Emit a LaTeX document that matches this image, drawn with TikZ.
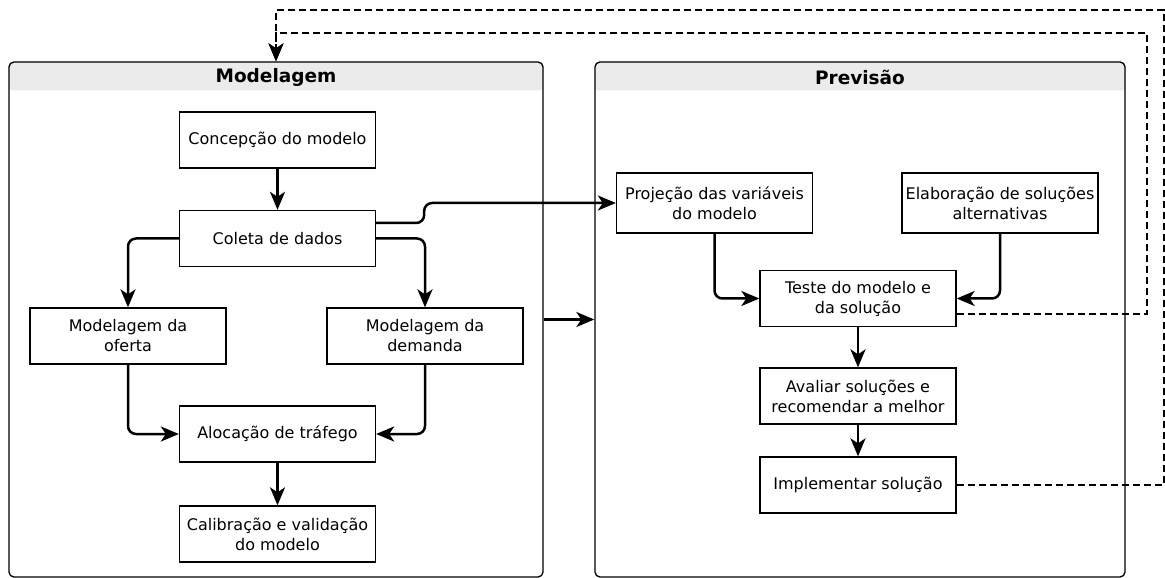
\documentclass[tikz,border=0pt]{standalone}
\usepackage{fontspec}
\setmainfont{DejaVu Sans}
\usetikzlibrary{arrows.meta,backgrounds}
\definecolor{hdrgray}{RGB}{235,235,235}
\begin{document}
\begin{tikzpicture}[x=1bp,y=-1bp,
  proc/.style={draw, line width=1.3bp, minimum width=196bp, minimum height=56bp,
    inner sep=0pt, align=center, fill=white,
    font=\fontsize{16bp}{20bp}\selectfont},
  lane/.style={draw, line width=1.3bp, rounded corners=5bp, inner sep=0pt,
    minimum height=515bp},
  lanetitle/.style={font=\bfseries\fontsize{18.5bp}{22bp}\selectfont},
  headtip/.style={-{Stealth[length=18bp,width=15bp,inset=5bp]}},
  flow/.style={headtip, line width=2.5bp, rounded corners=8bp},
  feedback/.style={headtip, line width=1.4bp, dash pattern=on 7bp off 4bp}
]
\useasboundingbox (0,0) rectangle (1165,578);

% swimlanes
\node[lane, minimum width=534bp] (modlane) at (276,319.5) {};
\node[lane, minimum width=530bp] (prevlane) at (860,319.5) {};
\begin{scope}[on background layer]
  \fill[hdrgray, rounded corners=5bp]
    ([yshift=-29bp]modlane.north west) -- (modlane.north west)
    -- (modlane.north east) -- ([yshift=-29bp]modlane.north east);
  \fill[hdrgray, rounded corners=5bp]
    ([yshift=-29bp]prevlane.north west) -- (prevlane.north west)
    -- (prevlane.north east) -- ([yshift=-29bp]prevlane.north east);
\end{scope}
\node[lanetitle] (modtitle) at (276,77) {Modelagem};
\node[lanetitle] (prevtitle) at (860,77) {Previsão};

% Modelagem steps
\node[proc] (conc)    at (277.5,140)   {Concepção do modelo};
\node[proc] (coleta)  at (277.5,238.5) {Coleta de dados};
\node[proc] (oferta)  at (128,336)     {Modelagem da\\oferta};
\node[proc] (demanda) at (425,336)     {Modelagem da\\demanda};
\node[proc] (aloc)    at (277.5,434)   {Alocação de tráfego};
\node[proc] (calib)   at (277.5,534)   {Calibração e validação\\do modelo};

% Previsão steps
\node[proc, minimum height=60bp] (proj) at (714.5,203) {Projeção das variáveis\\do modelo};
\node[proc, minimum height=60bp] (elab) at (1000,203)  {Elaboração de soluções\\alternativas};
\node[proc] (teste) at (858,298.5) {Teste do modelo e\\da solução};
\node[proc] (aval)  at (858,396)   {Avaliar soluções e\\recomendar a melhor};
\node[proc] (impl)  at (858,485)   {Implementar solução};

% connectors
\draw[flow] (conc) -- (coleta);
\draw[flow] (coleta.west) -| (oferta.north);
\draw[flow] (coleta.east) -| (demanda.north);
\draw[flow] ([yshift=15.5bp]coleta.east) -- ++(48,0) |- (proj.west);
\draw[flow] (oferta.south) |- (aloc.west);
\draw[flow] (demanda.south) |- (aloc.east);
\draw[flow] (aloc) -- (calib);
\draw[flow] (modlane.east) -- (prevlane.west);
\draw[flow] (proj.south) |- (teste.west);
\draw[flow] (elab.south) |- (teste.east);
\draw[flow] (teste) -- (aval);
\draw[flow] (aval) -- (impl);

% feedback loops
\draw[feedback] ([yshift=-15.5bp]teste.east) -| (1147,33) -| (modlane.north);
\draw[feedback] (impl.east) -| (1164,10) -| (modlane.north);
\end{tikzpicture}
\end{document}
